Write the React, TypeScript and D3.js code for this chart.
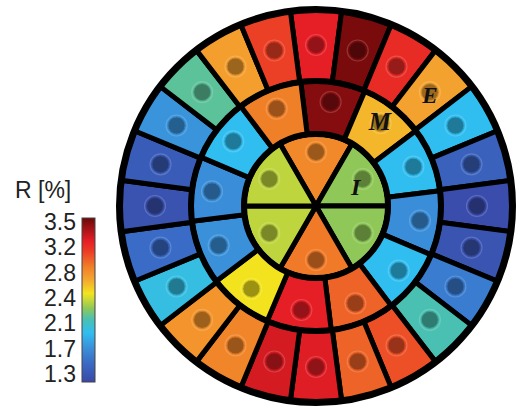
import React from "react";
import * as d3 from "d3";

// Colormap (value -> colour)
const cmapValues = [1.3, 1.564, 1.784, 1.96, 2.136, 2.29, 2.4, 2.488, 2.664, 2.84, 3.06, 3.192, 3.5];
const cmapColors = ["#3a48a8", "#3a6cc6", "#3a95dc", "#30bef0", "#48c0b4", "#8fc858", "#c8d838", "#f2e41e", "#f5a830", "#f08028", "#ec3a26", "#e61e26", "#6a0808"];

const tickLabels = ["3.5", "3.2", "2.8", "2.4", "2.1", "1.7", "1.3"];
const colorbarTitle = "R [%]";

// Ring values (clockwise from 12 o'clock)
const innerValues = [2.8, 2.29, 2.29, 2.86, 2.38, 2.38];
const middleValues = [3.43, 2.62, 1.96, 1.74, 1.96, 2.93, 3.19, 2.49, 1.76, 1.74, 1.96, 2.84];
const outerValues = [3.19, 3.46, 3.13, 2.69, 1.96, 1.48, 1.34, 1.39, 1.65, 2.14, 2.99, 2.93, 3.21, 3.24, 2.82, 2.75, 2.0, 1.56, 1.37, 1.45, 1.78, 2.18, 2.71, 3.04];

const zoneLabels = ["I", "M", "E"];

export default function App() {
  const cx = 316, cy = 206;
  const rInner = 72, rMiddle = 125, rOuter = 196.5;
  const color = d3.scaleLinear<string>().domain(cmapValues).range(cmapColors).interpolate(d3.interpolateRgb).clamp(true);
  const deg = Math.PI / 180;

  const rings = [
    { values: innerValues, r0: 0, r1: rInner, offset: -30, dotR: 54 },
    { values: middleValues, r0: rInner, r1: rMiddle, offset: -7, dotR: 105 },
    { values: outerValues, r0: rMiddle, r1: rOuter, offset: -7.5, dotR: 161 },
  ];
  const arc = d3.arc<any>();

  const cells: any[] = [];
  rings.forEach((ring, ri) => {
    const n = ring.values.length;
    const step = 360 / n;
    ring.values.forEach((v, k) => {
      const a0 = (ring.offset + step * k) * deg;
      const a1 = (ring.offset + step * (k + 1)) * deg;
      const am = (a0 + a1) / 2;
      const c = color(v);
      cells.push({
        key: `${ri}-${k}`,
        d: arc({ innerRadius: ring.r0, outerRadius: ring.r1, startAngle: a0, endAngle: a1 }),
        c,
        dx: ring.dotR * Math.sin(am),
        dy: -ring.dotR * Math.cos(am),
      });
    });
  });

  // label placement (polar, degrees / radius)
  const labelPos = [
    { a: 64, r: 44, s: 24 },
    { a: 37, r: 106, s: 25 },
    { a: 45.8, r: 159, s: 23 },
  ];

  const cbTop = 218, cbBottom = 382, cbX = 82, cbW = 13;
  const cbScale = d3.scaleLinear().domain([1.3, 3.5]).range([0, 100]);
  const tickY = d3.scalePoint<string>().domain(tickLabels).range([222, 374]);

  return (
    <svg width={520} height={407} style={{ position: "absolute", left: 0, top: 0, background: "#fff" }}>
      <defs>
        <linearGradient id="cb" x1="0" y1="1" x2="0" y2="0">
          {cmapValues.map((v, i) => (
            <stop key={i} offset={`${cbScale(v)}%`} stopColor={cmapColors[i]} />
          ))}
        </linearGradient>
      </defs>
      <g transform={`translate(${cx},${cy})`}>
        {cells.map((c) => (
          <path key={c.key} d={c.d} fill={c.c} stroke="#000" strokeWidth={5} strokeLinejoin="round" />
        ))}
        {cells.map((c) => (
          <g key={"dot" + c.key} transform={`translate(${c.dx},${c.dy})`}>
            <circle r={10.5} fill="none" stroke={d3.interpolateRgb(c.c, "#fff")(0.2)} strokeWidth={1.2} opacity={0.85} />
            <circle r={8.5} fill={d3.interpolateRgb(c.c, "#000")(0.36)} stroke={d3.interpolateRgb(c.c, "#000")(0.15)} strokeWidth={1} />
          </g>
        ))}
        <circle r={rMiddle} fill="none" stroke="#000" strokeWidth={6} />
        <circle r={rInner} fill="none" stroke="#000" strokeWidth={6} />
        <circle r={rOuter} fill="none" stroke="#000" strokeWidth={7} />
        {zoneLabels.map((t, i) => (
          <text
            key={t}
            x={labelPos[i].r * Math.sin(labelPos[i].a * deg)}
            y={-labelPos[i].r * Math.cos(labelPos[i].a * deg)}
            textAnchor="middle"
            dominantBaseline="central"
            fontFamily="'Liberation Serif', 'Times New Roman', serif"
            fontStyle="italic"
            fontWeight="bold"
            fontSize={labelPos[i].s}
            fill="#111"
          >
            {t}
          </text>
        ))}
      </g>
      <rect x={cbX} y={cbTop} width={cbW} height={cbBottom - cbTop} fill="url(#cb)" stroke="#444" strokeWidth={1} />
      {tickLabels.map((t) => (
        <text key={t} x={76} y={tickY(t)} textAnchor="end" dominantBaseline="central"
          fontFamily="'Liberation Sans', Arial, sans-serif" fontSize={23} fill="#222">
          {t}
        </text>
      ))}
      <text x={15} y={198} fontFamily="'Liberation Sans', Arial, sans-serif" fontSize={23} fill="#222">
        {colorbarTitle}
      </text>
    </svg>
  );
}
